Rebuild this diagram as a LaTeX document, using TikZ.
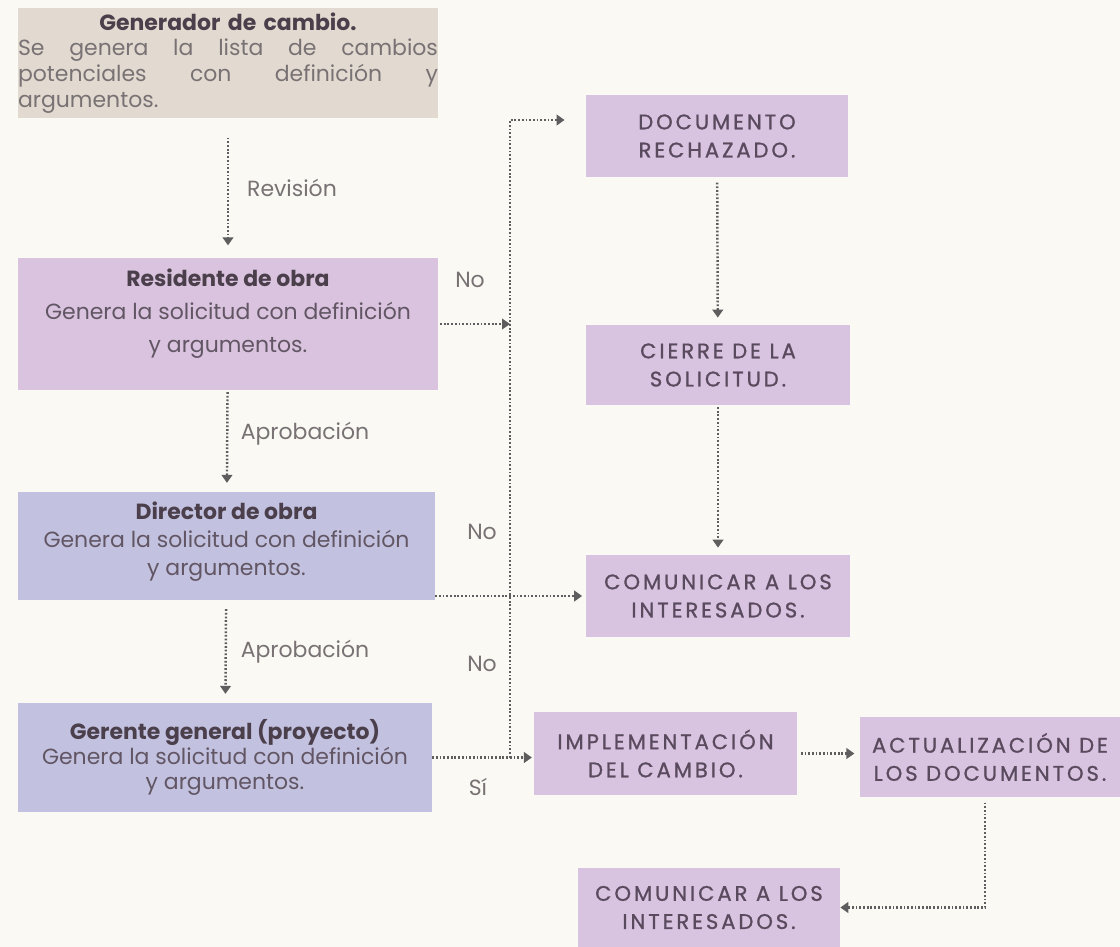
\documentclass[tikz,border=0pt]{standalone}
\usepackage{fontspec}
\setmainfont{Poppins}
\newfontfamily\capsfont[LetterSpace=14, FakeBold=1]{Poppins}
\usetikzlibrary{fit}
\usetikzlibrary{arrows.meta}
\definecolor{fondo}{HTML}{FBF9F4}
\definecolor{beige}{HTML}{E2DAD0}
\definecolor{rosa}{HTML}{D9C3DE}
\definecolor{lavanda}{HTML}{C2C2E0}
\definecolor{lila}{HTML}{D8C3E0}
\definecolor{tinta}{HTML}{4B3F4B}
\definecolor{gris}{HTML}{625664}
\definecolor{grisclaro}{HTML}{787274}
\definecolor{morado}{HTML}{5A4A5E}
\definecolor{flecha}{HTML}{5E5E5E}

\tikzset{
	caja/.style={inner sep=0pt},
	mayus/.style={font=\capsfont\fontsize{12}{16}\selectfont, text=morado, align=center},
	texto/.style={font=\fontsize{12.5}{18.7}\selectfont, text=gris, align=center},
	gentexto/.style={font=\fontsize{12.5}{14.7}\selectfont, text=grisclaro, align=left, text width=8.4cm, inner sep=0pt},
	flujo/.style={draw=flecha, line width=1.4pt, dash pattern=on 1pt off 1.1pt, -{Triangle[length=4.5pt,width=6pt]}},
	rotulo/.style={font=\fontsize{12.5}{14}\selectfont, text=grisclaro}
}

\begin{document}
\begin{tikzpicture}[x=0.02cm, y=-0.02cm]
	\fill[fondo] (0,0) rectangle (1120,947);

	% columna izquierda
	\node[caja, fill=beige, fit={(18,8) (438,118)}, label={[gentexto]center:{\makebox[8.4cm]{\color{tinta}\bfseries Generador de cambio.}\\
		\makebox[8.4cm]{Se\hfill genera\hfill la\hfill lista\hfill de\hfill cambios}\\
		\makebox[8.4cm]{potenciales\hfill con\hfill definición\hfill y}\\
		argumentos.}}] (gen) {};
	\node[caja, fill=rosa, fit={(18,258) (438,390)}, label={[texto, yshift=0.2cm]center:{\color{tinta}\bfseries Residente de obra\\Genera la solicitud con definición\\y argumentos.}}] (res) {};
	\node[caja, fill=lavanda, fit={(18,492) (435,600)}, label={[texto, yshift=0.08cm, font=\fontsize{12.5}{16}\selectfont]center:{\color{tinta}\bfseries Director de obra\\Genera la solicitud con definición\\y argumentos.}}] (dir) {};
	\node[caja, fill=lavanda, fit={(18,703) (432,812)}, label={[texto, font=\fontsize{12.5}{14.4}\selectfont]center:{\color{tinta}\bfseries Gerente general (proyecto)\\Genera la solicitud con definición\\y argumentos.}}] (ger) {};

	% columna derecha
	\node[caja, fill=lila, fit={(586,95) (848,177)}, label={[mayus]center:DOCUMENTO\\RECHAZADO.}] (rech) {};
	\node[caja, fill=lila, fit={(586,325) (850,405)}, label={[mayus]center:CIERRE DE LA\\SOLICITUD.}] (cie) {};
	\node[caja, fill=lila, fit={(586,555) (850,637)}, label={[mayus]center:COMUNICAR A LOS\\INTERESADOS.}] (com) {};
	\node[caja, fill=lila, fit={(534,712) (797,795)}, label={[mayus]center:IMPLEMENTACIÓN\\DEL CAMBIO.}] (imp) {};
	\node[caja, fill=lila, fit={(860,717) (1120,797)}, label={[mayus]center:ACTUALIZACIÓN DE\\LOS DOCUMENTOS.}] (act) {};
	\node[caja, fill=lila, fit={(578,868) (840,947)}, label={[mayus]center:COMUNICAR A LOS\\INTERESADOS.}] (comb) {};

	\coordinate (tope) at (510,120);	% linea del No

	% flechas
	\draw[flujo, shorten <=11pt, shorten >=7pt] (gen) -- (res);
	\draw[flujo, shorten <=1pt, shorten >=5pt] (res) -- (dir);
	\draw[flujo, shorten <=5pt, shorten >=5pt] (dir) -- (ger);
	\draw[flujo, shorten <=1pt] (res.east) -- (res.east -| tope);
	\draw[flujo, shorten >=12pt] (ger.east -| tope) -- (tope) -- (tope -| rech.west);
	\draw[flujo, shorten >=2pt] (com.west -| dir.east) -- (com.west);
	\draw[flujo, shorten >=1pt] (ger.east) -- (ger.east -| imp.west);
	\draw[flujo, shorten <=2pt, shorten >=3pt] (imp.east) -- (imp.east -| act.west);
	\draw[flujo, shorten <=3pt, shorten >=4pt] (rech) -- (cie);
	\draw[flujo, shorten <=1pt, shorten >=4pt] (cie) -- (com);
	\draw[flujo, shorten <=3pt] (act.south -| 985,0) |- (comb.east);

	% rotulos
	\node[rotulo] (revision) at (292,188) {Revisión};
	\node[rotulo] (aprob1) at (305,434) {Aprobación};
	\node[rotulo] (aprob2) at (305,652) {Aprobación};
	\node[rotulo] (no1) at (470,280) {No};
	\node[rotulo] (no2) at (482,532) {No};
	\node[rotulo] (no3) at (482,664) {No};
	\node[rotulo] (si) at (478,787) {Sí};
\end{tikzpicture}
\end{document}
